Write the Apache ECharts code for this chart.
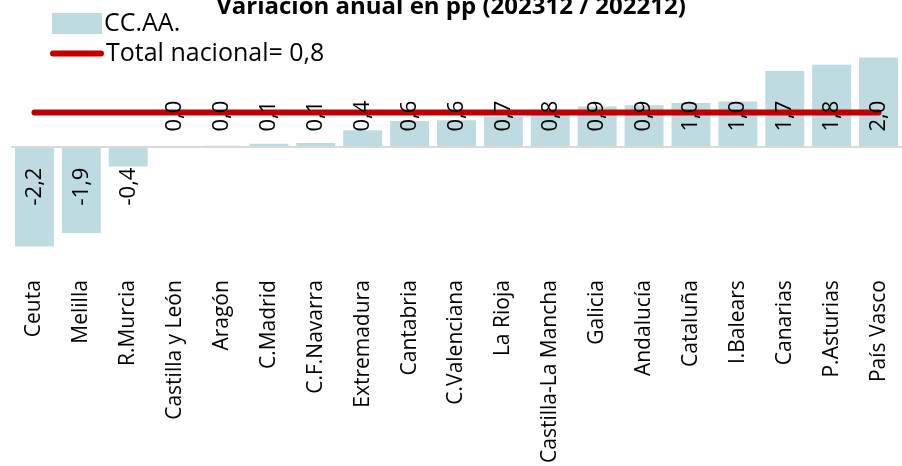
<!DOCTYPE html>
<html>
<head>
<meta charset="utf-8">
<script src="https://cdn.jsdelivr.net/npm/echarts@6/dist/echarts.min.js"></script>
<style>
html,body{margin:0;padding:0;background:#fff;}
#chart{width:902px;height:466px;}
</style>
</head>
<body>
<div id="chart"></div>
<script>
var titleText = 'Variación anual en pp (202312 / 202212)';
var categories = ['Ceuta','Melilla','R.Murcia','Castilla y León','Aragón','C.Madrid','C.F.Navarra','Extremadura','Cantabria','C.Valenciana','La Rioja','Castilla-La Mancha','Galicia','Andalucía','Cataluña','I.Balears','Canarias','P.Asturias','País Vasco'];
var ccaaValues = [-2.2, -1.9, -0.44, 0.01, 0.02, 0.06, 0.08, 0.36, 0.56, 0.58, 0.66, 0.76, 0.88, 0.91, 0.96, 0.99, 1.66, 1.8, 1.96];
var nationalValues = [0.75, 0.75, 0.75, 0.75, 0.75, 0.75, 0.75, 0.75, 0.75, 0.75, 0.75, 0.75, 0.75, 0.75, 0.75, 0.75, 0.75, 0.75, 0.75];
var seriesNames = ['CC.AA.', 'Total nacional= 0,8'];

var FONT = 'Open Sans';
function fmt(v) { return v.toFixed(1).replace('.', ','); }

var labelData = ccaaValues.map(function (v) {
  if (v < 0) {
    return { value: v, label: { position: 'insideTop', distance: 21, align: 'right' } };
  }
  return { value: v };
});

var chart = echarts.init(document.getElementById('chart'));
chart.setOption({
  animation: false,
  backgroundColor: '#ffffff',
  title: {
    text: titleText,
    left: 'center',
    top: -10,
    textStyle: { fontFamily: FONT, fontWeight: 'bold', fontSize: 24, color: '#000' }
  },
  legend: [
    {
      data: [{ name: seriesNames[0], icon: 'rect' }],
      left: 47, top: 6,
      itemWidth: 50, itemHeight: 21, itemGap: 0,
      textStyle: { fontFamily: FONT, fontSize: 25, color: '#000', padding: [0, 0, 0, -3] }
    },
    {
      data: [{ name: seriesNames[1], icon: 'path://M3,0 L51,0 A3,3 0 0 1 51,6 L3,6 A3,3 0 0 1 3,0 Z' }],
      left: 45, top: 36,
      itemWidth: 54, itemHeight: 6, itemGap: 0,
      itemStyle: { color: '#C00000', borderWidth: 0 },
      lineStyle: { width: 0 },
      textStyle: { fontFamily: FONT, fontSize: 25, color: '#000', padding: [0, 0, 0, -3] }
    }
  ],
  grid: { left: 11, right: -8, top: 32.95, bottom: 205.55, containLabel: false },
  xAxis: {
    type: 'category',
    data: categories,
    axisLine: { show: false, onZero: false },
    axisTick: { show: false },
    axisLabel: { interval: 0, rotate: 90, margin: 20, fontFamily: FONT, fontSize: 21, color: '#000' }
  },
  yAxis: {
    type: 'value', min: -2.5, max: 2.5, show: false,
    splitLine: { show: false }
  },
  series: [
    {
      name: seriesNames[0],
      type: 'bar',
      data: ccaaValues,
      barCategoryGap: '17%',
      z: 2,
      itemStyle: { color: '#BDDBE0' },
      markLine: {
        silent: true, symbol: 'none', label: { show: false },
        lineStyle: { color: '#D9D9D9', width: 2, type: 'solid' },
        data: [{ yAxis: 0 }]
      }
    },
    {
      name: seriesNames[1],
      type: 'line',
      data: nationalValues,
      symbol: 'none',
      z: 3,
      lineStyle: { color: '#C00000', width: 6, cap: 'round' },
      itemStyle: { color: '#C00000' }
    },
    {
      name: 'etiquetas',
      type: 'bar',
      data: labelData,
      barCategoryGap: '17%',
      barGap: '-100%',
      z: 4,
      silent: true,
      itemStyle: { color: 'rgba(0,0,0,0)' },
      label: {
        show: true, position: 'insideBottom', distance: 15, rotate: 90,
        align: 'left', verticalAlign: 'middle',
        fontFamily: FONT, fontSize: 22, color: '#000',
        formatter: function (p) { return fmt(p.value); }
      }
    }
  ]
});
</script>
</body>
</html>
